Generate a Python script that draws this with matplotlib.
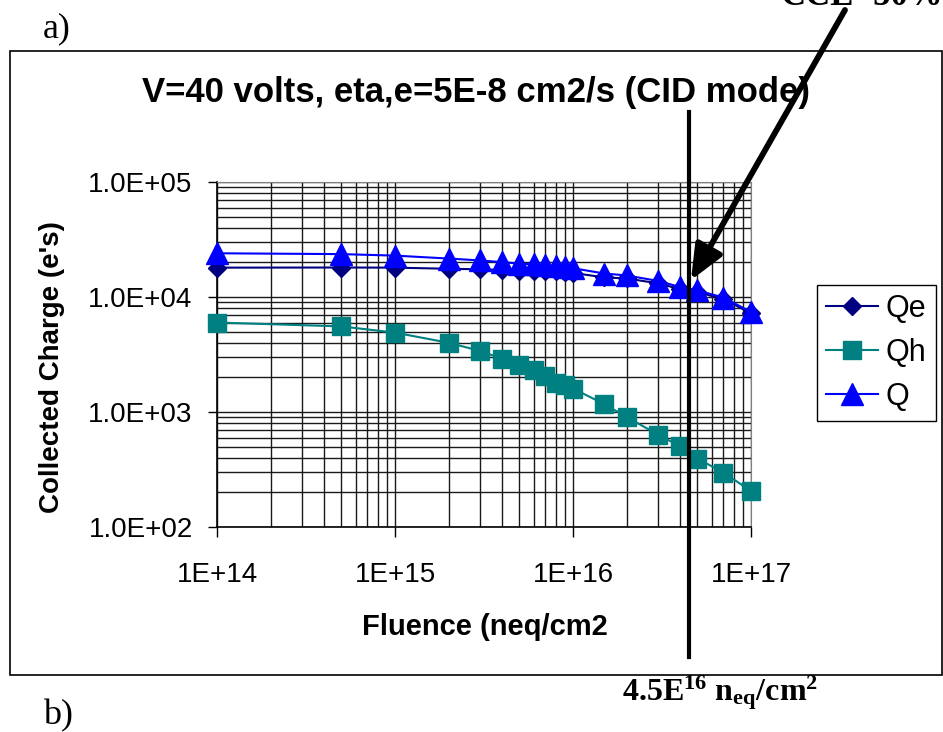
import matplotlib
matplotlib.use("Agg")
import matplotlib.pyplot as plt
import matplotlib.transforms as mtransforms
from matplotlib.patches import Rectangle
from matplotlib.ticker import LogLocator, NullFormatter

plt.rcParams['font.family'] = ['Liberation Sans', 'DejaVu Sans']
plt.rcParams['mathtext.fontset'] = 'custom'
plt.rcParams['mathtext.rm'] = 'Liberation Serif:bold'
plt.rcParams['mathtext.it'] = 'Liberation Serif:italic:bold'
plt.rcParams['mathtext.bf'] = 'Liberation Serif:bold'

# fluence points (neq/cm2) and collected charge (e's)
fluence = [1e14, 5e14, 1e15, 2e15, 3e15, 4e15, 5e15, 6e15, 7e15, 8e15, 9e15,
           1e16, 1.5e16, 2e16, 3e16, 4e16, 5e16, 7e16, 1e17]
qe = [18000, 18050, 18000, 17600, 17400, 17200, 16900, 16900, 16800, 16700, 16500,
      16200, 14800, 14500, 13150, 11700, 11000, 9600, 7200]
qh = [6000, 5550, 4900, 4000, 3400, 2900, 2580, 2300, 2070, 1800, 1700,
      1600, 1170, 905, 636, 503, 394, 297, 206]
q = [24000, 23600, 22900, 21600, 20800, 20100, 19500, 19200, 18900, 18500, 18200,
     17800, 16000, 15400, 13800, 12200, 11400, 9900, 7400]

x_ticks = [1e14, 1e15, 1e16, 1e17]
x_tick_labels = ['1E+14', '1E+15', '1E+16', '1E+17']
y_ticks = [1e2, 1e3, 1e4, 1e5]
y_tick_labels = ['1.0E+02', '1.0E+03', '1.0E+04', '1.0E+05']

cce_fluence = 4.5e16
cce_label = 'CCE=50%'
title = 'V=40 volts, eta,e=5E-8 cm2/s (CID mode)'

W, H = 943, 732
fig = plt.figure(figsize=(W / 100, H / 100), dpi=100)
fig.patch.set_facecolor('white')


def fx(x):
    return x / W


def fy(y):
    return 1 - y / H


ax = fig.add_axes([fx(217), fy(527), (751 - 217) / W, (527 - 182) / H])
ax.set_xscale('log')
ax.set_yscale('log')
ax.set_xlim(1e14, 1e17)
ax.set_ylim(1e2, 1e5)

ax.plot(fluence, qe, color='#000080', lw=1.5, marker='D', ms=9.5,
        mfc='#000080', mec='#000080', label='Qe', clip_on=False, zorder=3)
ax.plot(fluence, qh, color='#008080', lw=1.5, marker='s', ms=13,
        mfc='#008080', mec='#008080', label='Qh', clip_on=False, zorder=4)
ax.plot(fluence, q, color='#0000ff', lw=1.5, marker='^', ms=15.5,
        mfc='#0000ff', mec='#0000ff', label='Q', clip_on=False, zorder=5)

# grid on every decade subdivision
for axis in (ax.xaxis, ax.yaxis):
    axis.set_minor_locator(LogLocator(base=10, subs=range(2, 10)))
    axis.set_minor_formatter(NullFormatter())
ax.grid(which='both', color='#1a1a1a', lw=1.0)
ax.set_axisbelow(True)

ax.set_xticks(x_ticks, x_tick_labels)
ax.set_yticks(y_ticks, y_tick_labels)
ax.tick_params(which='minor', length=0)
ax.tick_params(axis='x', which='major', direction='out', length=7, width=1,
               pad=18, labelsize=20)
ax.tick_params(axis='y', which='major', direction='out', length=6.5, width=1,
               pad=11, labelsize=20)
for side in ('top', 'right'):
    ax.spines[side].set_color('#808080')
for side in ('left', 'bottom'):
    ax.spines[side].set_color('black')
    ax.spines[side].set_linewidth(1.2)

leg = ax.legend(loc='upper left', bbox_to_anchor=(fx(817), fy(285)),
                bbox_transform=fig.transFigure, borderaxespad=0,
                fancybox=False, edgecolor='black', framealpha=1, fontsize=22,
                handlelength=1.7, handletextpad=0.25, labelspacing=0.45,
                borderpad=0.3)
leg.get_frame().set_linewidth(1.0)

fig.text(fx(475.5), fy(101.7), title, ha='center', va='baseline',
         fontsize=25, fontweight='bold')
fig.text(fx(52), fy(367), "Collected Charge (e's)", rotation=90,
         ha='center', va='center', fontsize=20, fontweight='bold')
fig.text(fx(362), fy(627), 'Fluence (neq/cm2', ha='left', va='center',
         fontsize=21, fontweight='bold')

# CCE marker line and arrow
trans = mtransforms.blended_transform_factory(ax.transData, ax.transAxes)
ax.plot([cce_fluence, cce_fluence], [1.203, -0.377], transform=trans,
        color='black', lw=3, clip_on=False, zorder=6)
ax.annotate('', xy=(4.6e16, 1.4e4), xycoords='data',
            xytext=(845, H - 10), textcoords='figure pixels',
            arrowprops=dict(arrowstyle='-|>,head_length=1.4,head_width=0.6',
                            color='black', lw=4.2, shrinkA=0, shrinkB=0,
                            mutation_scale=15),
            annotation_clip=False, zorder=7)

serif = ['Liberation Serif', 'DejaVu Serif']
fig.text(fx(780), fy(5), cce_label, ha='left', va='baseline', family=serif,
         fontweight='bold', fontsize=25)
fig.text(fx(622), fy(700), r'4.5E$^{16}$ n$_{\mathrm{eq}}$/cm$^{2}$',
         ha='left', va='baseline', family=serif, fontweight='bold', fontsize=23)
fig.text(fx(43), fy(37), 'a)', ha='left', va='baseline', family=serif, fontsize=26)
fig.text(fx(43), fy(724), 'b)', ha='left', va='baseline', family=serif, fontsize=26)

fig.add_artist(Rectangle((fx(10), fy(675)), 932 / W, 624 / H,
                         transform=fig.transFigure, fill=False,
                         ec='black', lw=1.2))

fig.savefig('out.png', dpi=100)
